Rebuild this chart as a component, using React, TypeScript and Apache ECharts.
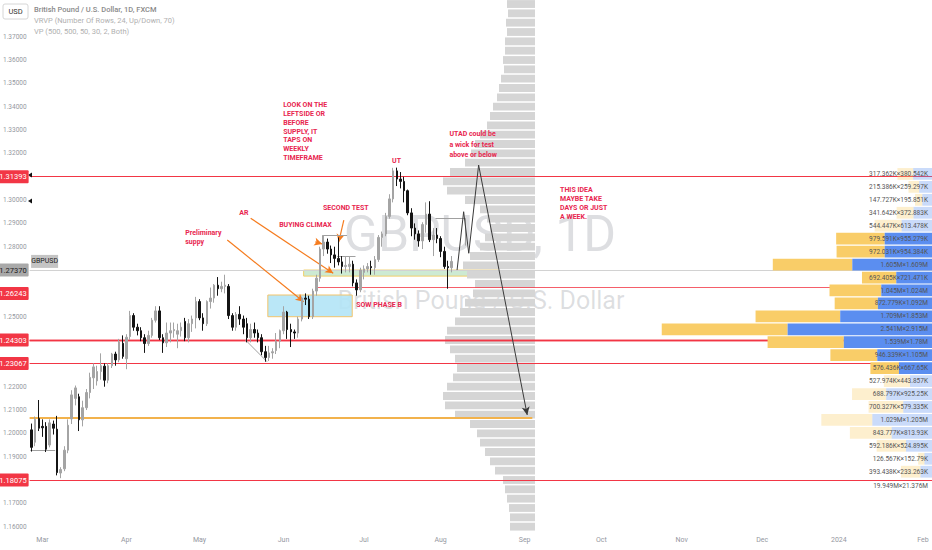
import React, { useEffect, useRef } from "react";
import * as echarts from "echarts";

const FONT = "Roboto, 'Liberation Sans', Arial, sans-serif";

// ---- time axis (trading days) ----
const FIRST_DAY = "2023-02-24";
const LAST_DAY = "2024-02-05";
const MONTH_NAMES = ["Jan", "Feb", "Mar", "Apr", "May", "Jun", "Jul", "Aug", "Sep", "Oct", "Nov", "Dec"];

// ---- daily candles GBPUSD [open, close, low, high] ----
const CANDLES: number[][] = [
  [1.2015, 1.1940, 1.1922, 1.2042],
  [1.1962, 1.2060, 1.1945, 1.2072],
  [1.2064, 1.2022, 1.2010, 1.2143],
  [1.2030, 1.2024, 1.1985, 1.2060],
  [1.2030, 1.1932, 1.1920, 1.2048],
  [1.1950, 1.2045, 1.1940, 1.2060],
  [1.2040, 1.2022, 1.1995, 1.2055],
  [1.2018, 1.1832, 1.1820, 1.2075],
  [1.1830, 1.1845, 1.1808, 1.1855],
  [1.1848, 1.1928, 1.1838, 1.1945],
  [1.1928, 1.2035, 1.1915, 1.2060],
  [1.2062, 1.2165, 1.2040, 1.2185],
  [1.2150, 1.2195, 1.2120, 1.2205],
  [1.2157, 1.2058, 1.2010, 1.2170],
  [1.2058, 1.2110, 1.2030, 1.2140],
  [1.2110, 1.2175, 1.2100, 1.2190],
  [1.2175, 1.2240, 1.2150, 1.2260],
  [1.2238, 1.2285, 1.2190, 1.2300],
  [1.2225, 1.2265, 1.2205, 1.2290],
  [1.2265, 1.2290, 1.2230, 1.2343],
  [1.2288, 1.2228, 1.2200, 1.2300],
  [1.2228, 1.2290, 1.2215, 1.2300],
  [1.2290, 1.2340, 1.2280, 1.2345],
  [1.2340, 1.2315, 1.2290, 1.2350],
  [1.2315, 1.2392, 1.2305, 1.2405],
  [1.2386, 1.2330, 1.2320, 1.2420],
  [1.2320, 1.2412, 1.2275, 1.2425],
  [1.2415, 1.2505, 1.2400, 1.2525],
  [1.2505, 1.2455, 1.2440, 1.2515],
  [1.2455, 1.2440, 1.2420, 1.2470],
  [1.2440, 1.2410, 1.2395, 1.2455],
  [1.2410, 1.2385, 1.2345, 1.2425],
  [1.2385, 1.2420, 1.2375, 1.2440],
  [1.2420, 1.2485, 1.2410, 1.2495],
  [1.2485, 1.2525, 1.2475, 1.2545],
  [1.2525, 1.2410, 1.2400, 1.2545],
  [1.2410, 1.2388, 1.2345, 1.2425],
  [1.2388, 1.2430, 1.2370, 1.2475],
  [1.2430, 1.2440, 1.2390, 1.2475],
  [1.2440, 1.2445, 1.2410, 1.2475],
  [1.2425, 1.2440, 1.2365, 1.2470],
  [1.2440, 1.2455, 1.2415, 1.2475],
  [1.2480, 1.2410, 1.2395, 1.2495],
  [1.2410, 1.2470, 1.2390, 1.2490],
  [1.2470, 1.2490, 1.2435, 1.2505],
  [1.2495, 1.2565, 1.2450, 1.2585],
  [1.2565, 1.2495, 1.2485, 1.2575],
  [1.2495, 1.2470, 1.2440, 1.2515],
  [1.2470, 1.2565, 1.2460, 1.2570],
  [1.2565, 1.2580, 1.2535, 1.2625],
  [1.2580, 1.2635, 1.2560, 1.2640],
  [1.2635, 1.2620, 1.2590, 1.2670],
  [1.2620, 1.2630, 1.2605, 1.2650],
  [1.2630, 1.2635, 1.2600, 1.2680],
  [1.2630, 1.2505, 1.2490, 1.2640],
  [1.2505, 1.2455, 1.2440, 1.2515],
  [1.2455, 1.2510, 1.2440, 1.2520],
  [1.2510, 1.2490, 1.2465, 1.2545],
  [1.2490, 1.2455, 1.2425, 1.2505],
  [1.2470, 1.2410, 1.2390, 1.2495],
  [1.2410, 1.2445, 1.2390, 1.2470],
  [1.2445, 1.2430, 1.2410, 1.2475],
  [1.2430, 1.2410, 1.2390, 1.2445],
  [1.2410, 1.2350, 1.2335, 1.2425],
  [1.2350, 1.2325, 1.2307, 1.2375],
  [1.2325, 1.2345, 1.2310, 1.2375],
  [1.2345, 1.2350, 1.2320, 1.2365],
  [1.2355, 1.2395, 1.2340, 1.2430],
  [1.2395, 1.2440, 1.2365, 1.2445],
  [1.2440, 1.2520, 1.2425, 1.2545],
  [1.2520, 1.2445, 1.2405, 1.2525],
  [1.2445, 1.2435, 1.2370, 1.2470],
  [1.2435, 1.2430, 1.2405, 1.2445],
  [1.2430, 1.2490, 1.2410, 1.2500],
  [1.2490, 1.2580, 1.2480, 1.2585],
  [1.2580, 1.2575, 1.2550, 1.2600],
  [1.2575, 1.2500, 1.2490, 1.2590],
  [1.2500, 1.2610, 1.2490, 1.2620],
  [1.2610, 1.2665, 1.2590, 1.2680],
  [1.2665, 1.2790, 1.2650, 1.2800],
  [1.2790, 1.2820, 1.2760, 1.2848],
  [1.2820, 1.2790, 1.2770, 1.2835],
  [1.2790, 1.2765, 1.2730, 1.2805],
  [1.2765, 1.2750, 1.2710, 1.2800],
  [1.2750, 1.2735, 1.2720, 1.2840],
  [1.2735, 1.2715, 1.2685, 1.2760],
  [1.2715, 1.2720, 1.2690, 1.2760],
  [1.2715, 1.2725, 1.2690, 1.2760],
  [1.2725, 1.2645, 1.2630, 1.2740],
  [1.2645, 1.2615, 1.2590, 1.2660],
  [1.2615, 1.2700, 1.2605, 1.2710],
  [1.2690, 1.2705, 1.2660, 1.2720],
  [1.2705, 1.2715, 1.2690, 1.2730],
  [1.2715, 1.2710, 1.2680, 1.2740],
  [1.2710, 1.2745, 1.2680, 1.2760],
  [1.2745, 1.2840, 1.2735, 1.2850],
  [1.2840, 1.2855, 1.2800, 1.2865],
  [1.2855, 1.2930, 1.2845, 1.2945],
  [1.2930, 1.3005, 1.2920, 1.3025],
  [1.3005, 1.3125, 1.2990, 1.3138],
  [1.3125, 1.3090, 1.3060, 1.3139],
  [1.3090, 1.3080, 1.3050, 1.3120],
  [1.3080, 1.3040, 1.2990, 1.3100],
  [1.3040, 1.2945, 1.2935, 1.3045],
  [1.2945, 1.2880, 1.2845, 1.2965],
  [1.2880, 1.2855, 1.2830, 1.2900],
  [1.2855, 1.2825, 1.2800, 1.2870],
  [1.2825, 1.2895, 1.2790, 1.2905],
  [1.2895, 1.2940, 1.2860, 1.2990],
  [1.2940, 1.2830, 1.2820, 1.2995],
  [1.2830, 1.2850, 1.2760, 1.2880],
  [1.2850, 1.2835, 1.2815, 1.2880],
  [1.2835, 1.2780, 1.2755, 1.2845],
  [1.2780, 1.2715, 1.2705, 1.2800],
  [1.2715, 1.2710, 1.2620, 1.2740],
  [1.2710, 1.2737, 1.2690, 1.2760],
];

// ---- price scale ----
const PRICE_MIN = 1.16;
const PRICE_MAX = 1.38;
const PRICE_STEP = 0.01;

// ---- horizontal levels ----
const RED_FULL_LEVELS = [1.31393, 1.23067, 1.18075];
const RED_DOUBLE_LEVELS = [1.2446, 1.24303];
const LABELLED_LEVELS = [1.31393, 1.26243, 1.24303, 1.23067, 1.18075];
const PARTIAL_LEVEL = 1.26243;
const PARTIAL_LEVEL_FROM = 78.2;
const ORANGE_LEVEL = 1.2067;
const ORANGE_LEVEL_TO = 137.1;
const LAST_PRICE = 1.2737;
const AXIS_MARKERS = [1.3107, 1.2996];

// ---- zones [x1, price1, x2, price2] ----
const BLUE_ZONE = [64.7, 1.2593, 87.8, 1.25];
const GREEN_ZONE = [74.5, 1.27, 127.8, 1.2674];

// ---- drawings ----
const ZIGZAG = [[116.5, 1.27], [118.3, 1.295], [119.7, 1.2772], [122.4, 1.315]];
const ZIGZAG_ARROW = [[122.4, 1.315], [135.7, 1.2079]];
const ORANGE_ARROWS = [
  [[53.6, 1.2829], [74.5, 1.2564]],
  [[60.0, 1.2922], [82.6, 1.2686]],
  [[77.7, 1.2821], [79.6, 1.2812]],
  [[85.5, 1.2914], [84.1, 1.282]],
];
const GREY_SEGMENTS = [
  [[-0.3, 1.1926], [6.5, 1.1926]],
  [[79.6, 1.2848], [86.4, 1.2848]],
  [[79.6, 1.2848], [79.6, 1.2818]],
  [[83.7, 1.276], [88.7, 1.276]],
  [[110.6, 1.2922], [118.8, 1.2922]],
  [[118.8, 1.2922], [118.8, 1.2805]],
  [[58.6, 1.24], [64.5, 1.2307]],
];

// ---- text notes [x, price(top), text, line height] ----
const NOTES: [number, number, string, number][] = [
  [68.9, 1.3425, "LOOK ON THE\nLEFTSIDE OR\nBEFORE\nSUPPLY, IT\nTAPS ON\nWEEKLY\nTIMEFRAME", 8.8],
  [98.7, 1.3185, "UT", 8.8],
  [79.8, 1.2983, "SECOND TEST", 8.8],
  [67.8, 1.291, "BUYING CLIMAX", 8.8],
  [56.9, 1.2962, "AR", 8.8],
  [42.1, 1.2878, "Preliminary\nsuppy", 9],
  [88.9, 1.2567, "SOW PHASE B", 8.8],
  [114.4, 1.3305, "UTAD could be\na wick for test\nabove or below", 10.5],
  [144.7, 1.306, "THIS IDEA\nMAYBE TAKE\nDAYS OR JUST\nA WEEK.", 8.8],
];

// ---- VRVP (24 rows, up/down, thousands) ----
const VP_LOW = 1.18075;
const VP_HIGH = 1.31393;
const VP_UP = [317.362, 215.386, 147.727, 341.642, 544.447, 979.591, 972.031, 1605, 692.405, 1045, 872.779, 1709, 2541, 1539, 946.339, 576.436, 527.974, 688.797, 700.327, 1029, 843.777, 592.186, 126.567, 393.438];
const VP_DOWN = [380.542, 259.297, 195.851, 372.883, 613.478, 955.279, 954.384, 1609, 721.471, 1024, 1092, 1853, 2915, 1780, 1105, 667.65, 443.857, 925.25, 579.335, 1205, 813.93, 524.895, 152.79, 233.263];
const VP_VALUE_AREA = [5, 15];
const VP_TOTAL = [19949, 21376];
const VP_SCALE_MAX = 18230;

// ---- fixed-range VP (grey), rows from top, relative volume ----
const GREY_TOP = 1.3857;
const GREY_STEP = 0.004;
const GREY_VP = [28, 27, 29, 28, 30, 30, 32, 31, 34, 36, 38, 42, 45, 48, 55, 60, 64, 70, 85, 92, 88, 70, 55, 48, 45, 50, 55, 65, 72, 68, 60, 62, 70, 75, 80, 88, 90, 85, 80, 78, 82, 88, 92, 90, 80, 65, 58, 55, 50, 45, 40, 32, 30, 28, 26, 25, 25];

function tradingDays(a: string, b: string): string[] {
  const out: string[] = [];
  const d = new Date(a + "T00:00:00Z");
  const e = new Date(b + "T00:00:00Z");
  while (d <= e) {
    const wd = d.getUTCDay();
    if (wd !== 0 && wd !== 6) out.push(d.toISOString().slice(0, 10));
    d.setUTCDate(d.getUTCDate() + 1);
  }
  return out;
}

function fmtVol(v: number): string {
  const trim = (s: string) => s.replace(/\.?0+$/, "");
  return v >= 1000 ? trim((v / 1000).toFixed(3)) + "M" : trim(v.toFixed(3)) + "K";
}

function buildOption() {
  const days = tradingDays(FIRST_DAY, LAST_DAY);
  const N = days.length;
  const monthLabels = days.map((d, i) => {
    if (i === 0) return "";
    const m = +d.slice(5, 7) - 1;
    const pm = +days[i - 1].slice(5, 7) - 1;
    if (m === pm) return "";
    return m === 0 ? d.slice(0, 4) : MONTH_NAMES[m];
  });

  const RED = "#f23645";
  const gridRect = { left: 29, right: 0, top: 13.4, bottom: 23.3 };
  const priceAxisHidden = (gi: number) => ({
    type: "value", gridIndex: gi, min: PRICE_MIN, max: PRICE_MAX, show: false,
    splitLine: { show: false },
  });

  const covered = [...LABELLED_LEVELS, LAST_PRICE];
  const tickText = (v: number) =>
    covered.some((p) => Math.abs(p - v) < 0.0045) ? "" : v.toFixed(5);

  const vpRowH = (VP_HIGH - VP_LOW) / VP_UP.length;
  const vpRows = VP_UP.map((u, i) => {
    const hi = VP_HIGH - i * vpRowH;
    return [u, VP_DOWN[i], hi - vpRowH, hi, i >= VP_VALUE_AREA[0] && i <= VP_VALUE_AREA[1] ? 0 : 1];
  });

  const greyRows = GREY_VP.map((v, i) => [v, GREY_TOP - (i + 1) * GREY_STEP, GREY_TOP - i * GREY_STEP]);

  const levelLabel = (p: number, bg: string, fg: string) => ({
    yAxis: p,
    label: {
      show: true, position: "start", distance: 1, formatter: p.toFixed(5),
      backgroundColor: bg, color: fg, fontSize: 7.5, fontFamily: FONT,
      padding: [3, 2, 2, 2], borderRadius: 1,
    },
  });

  return {
    animation: false,
    backgroundColor: "#ffffff",
    grid: [gridRect, gridRect, { left: 29, right: 397, top: 13.4, bottom: 23.3 }],
    xAxis: [
      {
        type: "category", gridIndex: 0, data: days, boundaryGap: true,
        axisLine: { show: false }, axisTick: { show: false }, splitLine: { show: false },
        axisLabel: {
          interval: (i: number) => monthLabels[i] !== "",
          formatter: (_v: string, i: number) => monthLabels[i],
          color: "#9598a1", fontSize: 7, fontFamily: FONT, margin: 10, hideOverlap: false,
        },
      },
      { type: "value", gridIndex: 0, min: -0.5, max: N - 0.5, show: false, splitLine: { show: false } },
      { type: "value", gridIndex: 1, min: 0, max: VP_SCALE_MAX, inverse: true, show: false, splitLine: { show: false } },
      { type: "value", gridIndex: 2, min: 0, max: 506, inverse: true, show: false, splitLine: { show: false } },
    ],
    yAxis: [
      {
        type: "value", gridIndex: 0, min: PRICE_MIN, max: PRICE_MAX, interval: PRICE_STEP, position: "left",
        axisLine: { show: false }, axisTick: { show: false }, splitLine: { show: false },
        axisLabel: {
          formatter: tickText, color: "#9598a1", fontSize: 6.5, fontFamily: FONT,
          margin: 3, showMaxLabel: false,
        },
      },
      priceAxisHidden(1),
      priceAxisHidden(2),
    ],
    graphic: [
      {
        type: "text", x: 480, y: 234, z: 0, silent: true,
        style: { text: "GBPUSD, 1D", fontSize: 50, fontFamily: FONT, fill: "rgba(120,123,134,0.25)", align: "center", verticalAlign: "middle" },
      },
      {
        type: "text", x: 481, y: 300, z: 0, silent: true,
        style: { text: "British Pound / U.S. Dollar", fontSize: 25, fontFamily: FONT, fill: "rgba(120,123,134,0.25)", align: "center", verticalAlign: "middle" },
      },
      {
        type: "rect", x: 3, y: 4, z: 100, shape: { width: 25, height: 15, r: 2 },
        style: { fill: "#ffffff", stroke: "#d6d6d6", lineWidth: 1 },
      },
      {
        type: "text", x: 15.5, y: 11.5, z: 101,
        style: { text: "USD", fontSize: 7.5, fontFamily: FONT, fill: "#333", align: "center", verticalAlign: "middle" },
      },
      {
        type: "text", x: 34, y: 9, z: 100,
        style: { text: "British Pound / U.S. Dollar, 1D, FXCM", fontSize: 7.5, fontFamily: FONT, fill: "#8a8a8a", fontWeight: 500, verticalAlign: "middle" },
      },
      {
        type: "text", x: 34, y: 20, z: 100,
        style: { text: "VRVP (Number Of Rows, 24, Up/Down, 70)", fontSize: 7.5, fontFamily: FONT, fill: "#b0b0b0", verticalAlign: "middle" },
      },
      {
        type: "text", x: 34, y: 31, z: 100,
        style: { text: "VP (500, 500, 50, 30, 2, Both)", fontSize: 7.5, fontFamily: FONT, fill: "#b0b0b0", verticalAlign: "middle" },
      },
    ],
    series: [
      // grey fixed-range volume profile
      {
        type: "custom", xAxisIndex: 3, yAxisIndex: 2, silent: true, z: 1,
        data: greyRows, encode: { x: 0, y: [1, 2] },
        renderItem: (_p: any, api: any) => {
          const a = api.coord([api.value(0), api.value(2)]);
          const b = api.coord([0, api.value(1)]);
          return {
            type: "rect",
            shape: { x: a[0], y: a[1], width: b[0] - a[0], height: Math.max(0.6, b[1] - a[1] - 1.5) },
            style: { fill: "#d5d5d5" },
          };
        },
      },
      // red / orange / price levels under the VRVP
      {
        type: "line", xAxisIndex: 1, yAxisIndex: 0, data: [], z: 1,
        markLine: {
          silent: true, symbol: ["none", "none"], label: { show: false },
          data: [
            ...RED_FULL_LEVELS.map((p) => ({ yAxis: p, lineStyle: { color: RED, width: 1, type: "solid" } })),
            [
              { coord: [PARTIAL_LEVEL_FROM, PARTIAL_LEVEL], lineStyle: { color: RED, width: 1, type: "solid", opacity: 0.8 } },
              { coord: [N - 0.5, PARTIAL_LEVEL] },
            ],
            [
              { coord: [-0.5, ORANGE_LEVEL], lineStyle: { color: "#f2b24c", width: 2, type: "solid" } },
              { coord: [ORANGE_LEVEL_TO, ORANGE_LEVEL] },
            ],
            { yAxis: LAST_PRICE, lineStyle: { color: "#d2d2d2", width: 1, type: "solid" } },
          ],
        },
        markArea: {
          silent: true,
          data: [
            [
              { coord: [BLUE_ZONE[0], BLUE_ZONE[1]], itemStyle: { color: "rgba(178,228,246,0.9)", borderColor: "#f3c46b", borderWidth: 1 } },
              { coord: [BLUE_ZONE[2], BLUE_ZONE[3]] },
            ],
            [
              { coord: [GREEN_ZONE[0], GREEN_ZONE[1]], itemStyle: { color: "rgba(200,232,206,0.9)", borderColor: "#f0cf6b", borderWidth: 1 } },
              { coord: [GREEN_ZONE[2], GREEN_ZONE[3]] },
            ],
          ],
        },
      },
      // candles
      {
        type: "candlestick", xAxisIndex: 0, yAxisIndex: 0, data: CANDLES, barWidth: "55%", z: 5,
        itemStyle: { color: "#a4a4a4", color0: "#141414", borderColor: "#a4a4a4", borderColor0: "#141414", borderWidth: 1 },
      },
      // colored VRVP
      {
        type: "custom", xAxisIndex: 2, yAxisIndex: 1, silent: true, z: 6,
        data: vpRows, encode: { x: [0, 1], y: [2, 3] },
        renderItem: (params: any, api: any) => {
          const i = params.dataIndex;
          const up = api.value(0), down = api.value(1), lo = api.value(2), hi = api.value(3);
          const faded = api.value(4) === 1;
          const r = api.coord([0, hi]);
          const m = api.coord([down, lo]);
          const l = api.coord([up + down, lo]);
          const h = m[1] - r[1];
          const op = faded ? 0.32 : 1;
          const children: any[] = [
            { type: "rect", shape: { x: l[0], y: r[1] + 0.5, width: m[0] - l[0], height: h - 1.2 }, style: { fill: "#f9cd68", opacity: op } },
            { type: "rect", shape: { x: m[0], y: r[1] + 0.5, width: r[0] - m[0], height: h - 1.2 }, style: { fill: "#5b8ef0", opacity: op } },
            {
              type: "text", x: r[0] - 4, y: r[1] + h / 2,
              style: { text: fmtVol(VP_UP[i]) + "×" + fmtVol(VP_DOWN[i]), fontSize: 6.5, fontFamily: FONT, fill: "#555", align: "right", verticalAlign: "middle" },
            },
          ];
          if (i === VP_UP.length - 1) {
            const t = api.coord([0, lo - vpRowH / 2]);
            children.push({
              type: "text", x: t[0] - 4, y: t[1] + 1,
              style: { text: fmtVol(VP_TOTAL[0]) + "×" + fmtVol(VP_TOTAL[1]), fontSize: 6.5, fontFamily: FONT, fill: "#555", align: "right", verticalAlign: "middle" },
            });
          }
          return { type: "group", children };
        },
      },
      // double red level over the profile
      {
        type: "line", xAxisIndex: 1, yAxisIndex: 0, data: [], z: 7,
        markLine: {
          silent: true, symbol: ["none", "none"], label: { show: false },
          data: RED_DOUBLE_LEVELS.map((p) => ({ yAxis: p, lineStyle: { color: RED, width: 1.3, type: "solid" } })),
        },
      },
      // drawings: zigzag, arrows, grey segments
      {
        type: "line", xAxisIndex: 1, yAxisIndex: 0, data: ZIGZAG, z: 8, symbol: "none", silent: true,
        lineStyle: { color: "#3a3a3a", width: 1 },
        markLine: {
          silent: true, label: { show: false }, symbolSize: [6, 8],
          data: [
            [
              { coord: ZIGZAG_ARROW[0], symbol: "none", lineStyle: { color: "#3a3a3a", width: 1, type: "solid" } },
              { coord: ZIGZAG_ARROW[1], symbol: "arrow" },
            ],
            ...ORANGE_ARROWS.map((a) => [
              { coord: a[0], symbol: "none", lineStyle: { color: "#f57c1f", width: 1.2, type: "solid" } },
              { coord: a[1], symbol: "arrow" },
            ]),
            ...GREY_SEGMENTS.map((s) => [
              { coord: s[0], symbol: "none", lineStyle: { color: "#a0a0a0", width: 1, type: "solid" } },
              { coord: s[1], symbol: "none" },
            ]),
          ],
        },
      },
      // price labels on the left scale
      {
        type: "line", xAxisIndex: 1, yAxisIndex: 0, data: [], z: 20,
        markLine: {
          silent: true, symbol: ["none", "none"],
          lineStyle: { color: "rgba(255,255,255,0)", width: 0.01 },
          data: [
            ...LABELLED_LEVELS.map((p) => levelLabel(p, RED, "#ffffff")),
            levelLabel(LAST_PRICE, "#a9a9a9", "#1b1b1b"),
          ],
        },
        markPoint: {
          silent: true,
          data: [
            {
              coord: [3.6, LAST_PRICE], symbol: "rect", symbolSize: [27, 13],
              itemStyle: { color: "#c4c4c4" },
              label: { show: true, position: "inside", formatter: "GBPUSD", fontSize: 7, fontFamily: FONT, color: "#1b1b1b" },
            },
            ...AXIS_MARKERS.map((p) => ({
              coord: [-0.4, p], symbol: "triangle", symbolRotate: 90, symbolSize: [5, 4],
              itemStyle: { color: "#111" }, label: { show: false },
            })),
          ],
        },
      },
      // text notes
      {
        type: "line", xAxisIndex: 1, yAxisIndex: 0, data: [], z: 21,
        markPoint: {
          silent: true, symbol: "circle", symbolSize: 0,
          data: NOTES.map(([x, p, t, lh]) => ({
            coord: [x, p],
            itemStyle: { color: "rgba(0,0,0,0)" },
            label: {
              show: true, position: [0, 0], align: "left", verticalAlign: "top", formatter: t,
              color: "#e8264f", fontSize: 7, fontWeight: "bold", lineHeight: lh, fontFamily: FONT,
            },
          })),
        },
      },
    ],
  };
}

export default function App() {
  const ref = useRef<HTMLDivElement>(null);
  useEffect(() => {
    const chart = echarts.init(ref.current!, undefined, { renderer: "svg" });
    chart.setOption(buildOption() as any);
    return () => chart.dispose();
  }, []);
  return (
    <div
      ref={ref}
      style={{ position: "fixed", left: 0, top: 0, width: 932, height: 550, background: "#ffffff" }}
    />
  );
}
